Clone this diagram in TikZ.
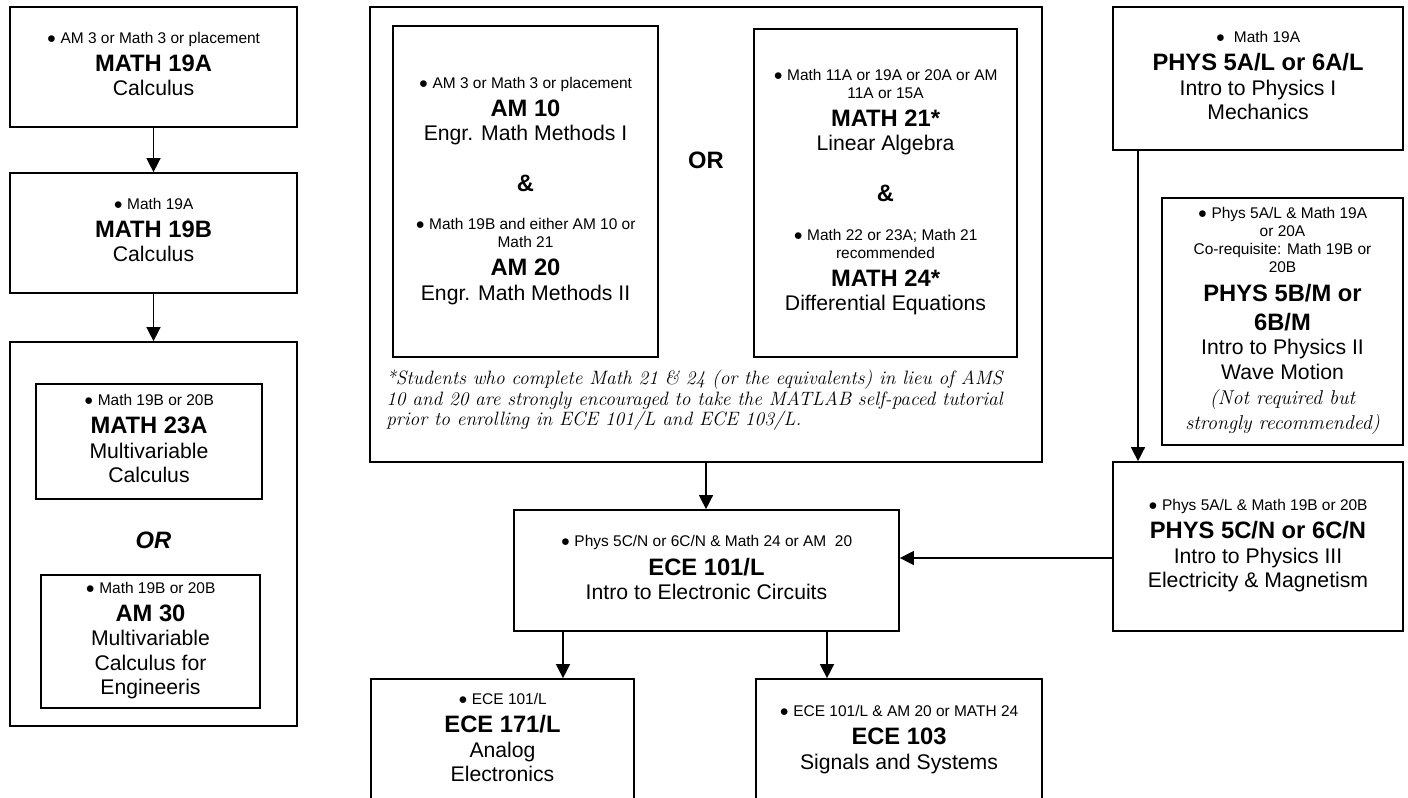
\documentclass[tikz,border=0pt]{standalone}
\usepackage{fontspec}
\newfontfamily\arial{Liberation Sans}
\usetikzlibrary{arrows.meta}
% line types inside a course box
\newcommand\pre{\arial\mdseries\upshape\fontsize{11.6}{13.5}\selectfont\strut}
\newcommand\code{\arial\bfseries\upshape\fontsize{17.8}{18}\selectfont\strut}
\newcommand\ttl{\arial\mdseries\upshape\fontsize{15.9}{18.4}\selectfont\strut}
\newcommand\aside{\rmfamily\mdseries\itshape\fontsize{15}{18.75}\selectfont\strut}
\begin{document}
\begin{tikzpicture}[x=0.75pt, y=-0.75pt,
    box/.style 2 args={draw, line width=1.3pt, minimum width=#1*0.75pt,
        minimum height=#2*0.75pt, inner sep=0pt, align=center,
        font={\arial\fontsize{11.6}{0}\selectfont\lineskip=0pt\lineskiplimit=0pt}},
    arr/.style={line width=1.1pt, -{Triangle[length=10.5pt, width=10.5pt]}},
    alt/.style={inner sep=0pt, font=\arial\bfseries\fontsize{17.8}{18}\selectfont}]
  \useasboundingbox (0,0) rectangle (1408,797);
  \fill[white] (0,0) rectangle (1408,797);
  \clip (0,0) rectangle (1408,797);

  % Left column: calculus chain
  \node[box={287}{120}] (m19a) at (153.5,67)
    {\pre ● AM 3 or Math 3 or placement\\[4.3pt] \code MATH 19A\\ \ttl Calculus};
  \node[box={287}{120}] (m19b) at (153.5,233)
    {\pre ● Math 19A\\[4.3pt] \code MATH 19B\\ \ttl Calculus};
  \node[box={287}{384}] (grp) at (153.5,534) {};
  \node[box={226}{115}] (m23a) at (149,441.5)
    {\pre ● Math 19B or 20B\\[4.3pt] \code MATH 23A\\ \ttl Multivariable\\ \ttl Calculus};
  \node[alt] (or1) at (153.5,540) {\itshape OR};
  \node[box={219}{133}] (am30) at (150.5,641.5)
    {\pre ● Math 19B or 20B\\[4.3pt] \code AM 30\\ \ttl Multivariable\\ \ttl Calculus for\\ \ttl Engineeris};

  % Middle: AM track or MATH track
  \node[box={672}{455}] (amgrp) at (706,234.5) {};
  \node[box={265}{331}] (am10) at (525.5,191.5)
    {\pre ● AM 3 or Math 3 or placement\\[4.3pt] \code AM 10\\ \ttl Engr. Math Methods I\\[20pt]
     \code \&\\[14pt]
     \pre ● Math 19B and either AM 10 or\\ \pre Math 21\\[4.3pt] \code AM 20\\ \ttl Engr. Math Methods II};
  \node[alt] (or2) at (706,160) {OR};
  \node[box={263}{328}] (m21) at (885.5,193)
    {\pre ● Math 11A or 19A or 20A or AM\\ \pre 11A or 15A\\[4.3pt] \code MATH 21*\\ \ttl Linear Algebra\\[20pt]
     \code \&\\[14pt]
     \pre ● Math 22 or 23A; Math 21\\ \pre recommended\\[4.3pt] \code MATH 24*\\ \ttl Differential Equations};
  \node[font=\fontsize{14.5}{15.4}\selectfont\itshape, align=left, anchor=north west,
        inner sep=0pt] (note) at (386,370)
    {*Students who complete Math 21 \& 24 (or the equivalents) in lieu of AMS\\
     10 and 20 are strongly encouraged to take the MATLAB self-paced tutorial\\
     prior to enrolling in ECE 101/L and ECE 103/L.};

  % ECE courses
  \node[box={385}{121}] (ece101) at (706.5,570.5)
    {\pre ● Phys 5C/N or 6C/N \& Math 24 or AM~~20\\[4.3pt] \code ECE 101/L\\ \ttl Intro to Electronic Circuits};
  \node[box={263}{123}] (ece171) at (502.5,740.5)
    {\pre ● ECE 101/L\\[4.3pt] \code ECE 171/L\\ \ttl Analog\\ \ttl Electronics};
  \node[box={286}{123}] (ece103) at (899,740.5)
    {\pre ● ECE 101/L \& AM 20 or MATH 24\\[4.3pt] \code ECE 103\\ \ttl Signals and Systems};

  % Right column: physics
  \node[box={290}{143}] (p5a) at (1258,78.5)
    {\pre ●~ Math 19A\\[4.3pt] \code PHYS 5A/L or 6A/L\\ \ttl Intro to Physics I\\ \ttl Mechanics};
  \node[box={241}{247}] (p5b) at (1282.5,321.5)
    {\pre ● Phys 5A/L \& Math 19A\\ \pre or 20A\\ \pre Co-requisite: Math 19B or\\ \pre 20B\\[4.3pt]
     \code PHYS 5B/M or\\[3.5pt] \code 6B/M\\ \ttl Intro to Physics II\\ \ttl Wave Motion\\
     \aside (Not required but\\ \aside strongly recommended)};
  \node[box={290}{169}] (p5c) at (1258,546.5)
    {\pre ● Phys 5A/L \& Math 19B or 20B\\[4.3pt] \code PHYS 5C/N or 6C/N\\ \ttl Intro to Physics III\\ \ttl Electricity \& Magnetism};

  % Prerequisite arrows
  \coordinate (drop) at (1138,0);
  \coordinate (tap) at (0,558);
  \coordinate (left) at (563,0);
  \coordinate (right) at (827,0);
  \draw[arr] (m19a.south) -- (m19b.north);
  \draw[arr] (m19b.south) -- (grp.north);
  \draw[arr] (amgrp.south) -- (amgrp.south |- ece101.north);
  \draw[arr] (p5a.south -| drop) -- (p5c.north -| drop);
  \draw[arr] (p5c.west |- tap) -- (ece101.east |- tap);
  \draw[arr] (ece101.south -| left) -- (ece171.north -| left);
  \draw[arr] (ece101.south -| right) -- (ece103.north -| right);
\end{tikzpicture}
\end{document}
